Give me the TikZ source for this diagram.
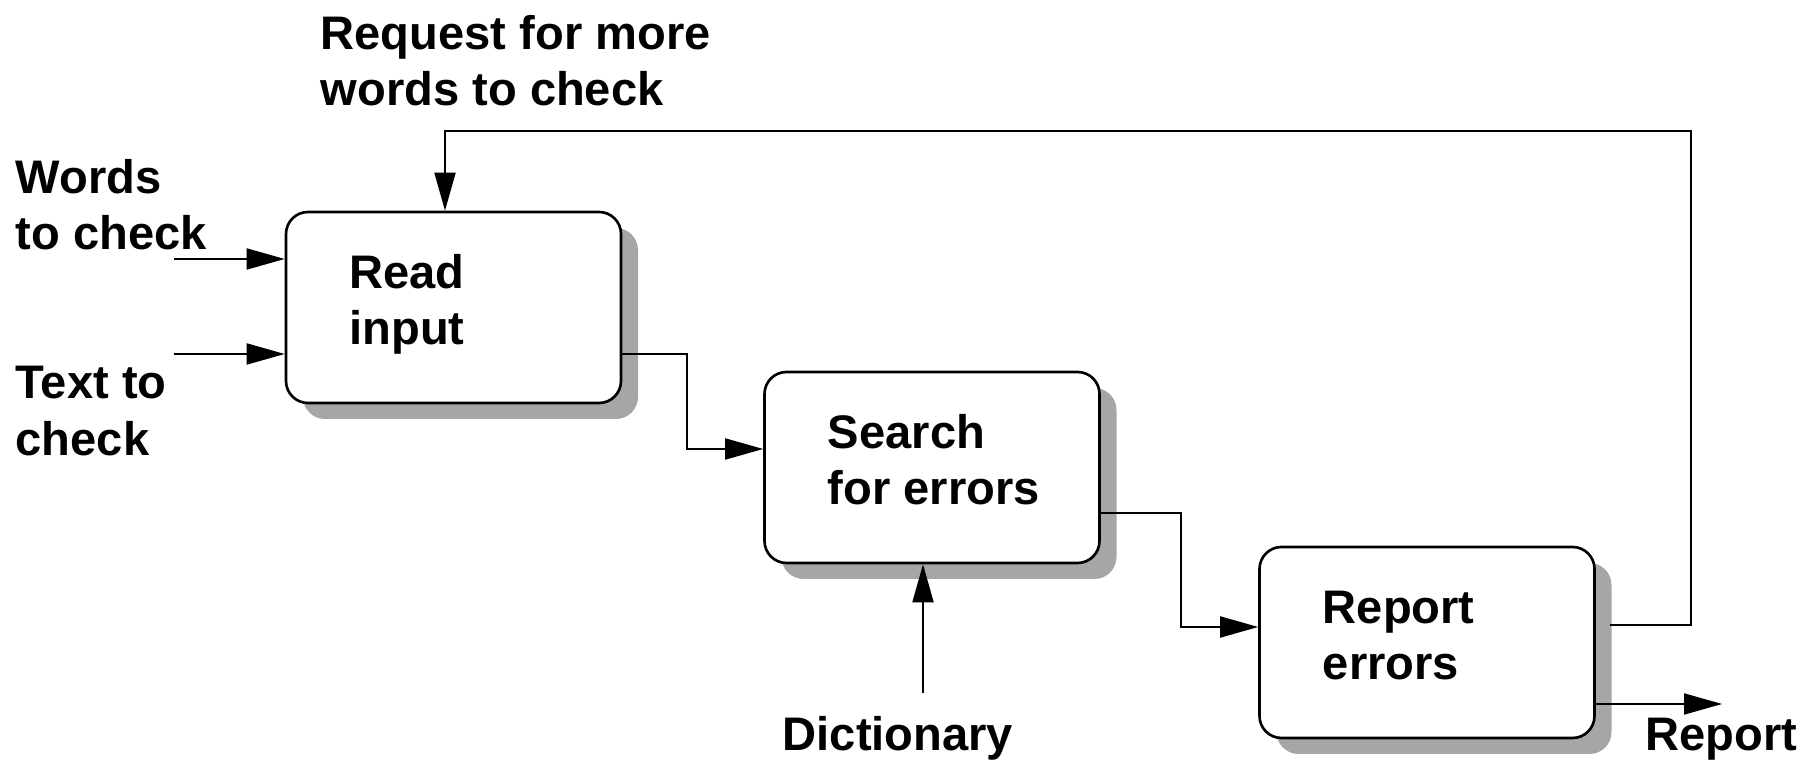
\documentclass[tikz,border=0pt]{standalone}
\usepackage{fontspec}
\setmainfont{Liberation Sans}
\usetikzlibrary{arrows.meta,shadows}

\tikzset{
  process/.style={draw, line width=0.75pt, rounded corners=0.22cm, fill=white,
    minimum width=3.35cm, minimum height=1.91cm,
    drop shadow={shadow xshift=0.17cm, shadow yshift=-0.16cm, fill=black!35, opacity=1}},
  txt/.style={font=\bfseries\fontsize{13.4}{16}\selectfont, align=left, inner sep=0pt},
  flow/.style={line width=0.55pt, -{Triangle[length=0.38cm,width=0.21cm]}}
}

\begin{document}
\begin{tikzpicture}
  \useasboundingbox (0,0) rectangle (18.16,7.6);

  % Coordinates
  \coordinate (win) at (1.74,5.01);
  \coordinate (tin) at (1.74,4.06);
  \coordinate (dict) at (9.23,0.67);
  \coordinate (rep) at (17.22,0.56);
  \coordinate (fb) at (16.10,1.35);
  \coordinate (fbtop) at (16.91,6.29);

  % Processes
  \node[process] (read) at (4.535,4.525) {};
  \node[process] (search) at (9.32,2.925) {};
  \node[process] (report) at (14.27,1.175) {};

  \node[txt, anchor=base west] (read-txt) at ([xshift=0.64cm,yshift=-0.375cm]read.west) {Read\\input};
  \node[txt, anchor=base west] (search-txt) at ([xshift=0.64cm,yshift=-0.375cm]search.west) {Search\\for errors};
  \node[txt, anchor=base west] (report-txt) at ([xshift=0.64cm,yshift=-0.375cm]report.west) {Report\\errors};

  % connecting the units
  \draw[flow] (win) -- (win -| read.west);
  \draw[flow] (tin) -- (tin -| read.west);
  \draw[flow] (tin -| read.east) -- ++(0.65,0) |- ([yshift=0.185cm]search.west);
  \draw[flow] ([yshift=-0.455cm]search.east) -- ++(0.80,0) |- ([yshift=0.155cm]report.west);
  \draw[flow] (dict) -- (dict |- search.south);
  \draw[flow] (rep -| report.east) -- (rep);
  \draw[flow] (fb) -| (fbtop) -| ([xshift=-0.085cm]read.north);

  % label flows
  \node[txt, anchor=west] (words) at (0.15,5.555) {Words\\to check};
  \node[txt, anchor=west] (text) at (0.15,3.49) {Text to\\check};
  \node[txt, anchor=west] (request) at (3.20,6.99) {Request for more\\words to check};
  \node[txt, anchor=base] (dictionary) at (8.98,0.09) {Dictionary};
  \node[txt, anchor=base west] (output) at (16.45,0.09) {Report};
\end{tikzpicture}
\end{document}
